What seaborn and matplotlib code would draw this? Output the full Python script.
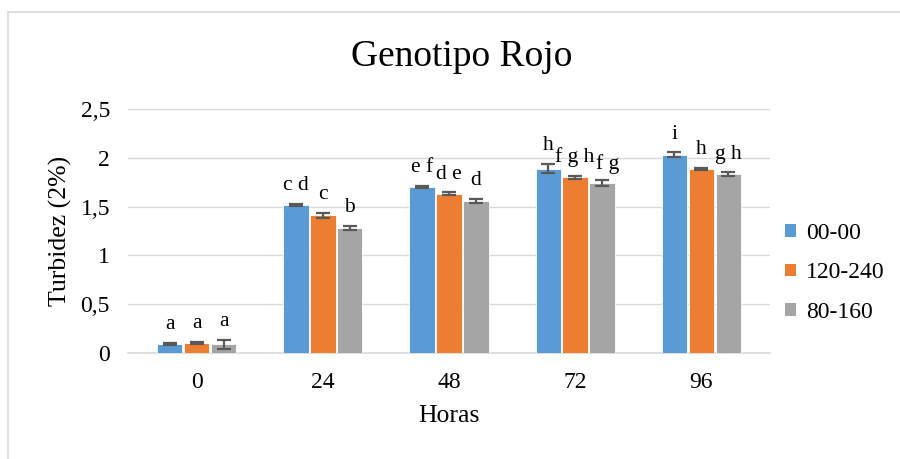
import matplotlib
matplotlib.use("Agg")
import matplotlib.pyplot as plt
from matplotlib.lines import Line2D
import seaborn as sns
import pandas as pd
import numpy as np

# ---- data ----
horas = ["0", "24", "48", "72", "96"]
series = ["00-00", "120-240", "80-160"]
v_0000 = [0.09, 1.52, 1.70, 1.89, 2.03]
v_120240 = [0.10, 1.41, 1.63, 1.80, 1.89]
v_80160 = [0.09, 1.28, 1.56, 1.74, 1.83]
e_0000 = [0.01, 0.01, 0.01, 0.05, 0.025]
e_120240 = [0.01, 0.025, 0.015, 0.015, 0.01]
e_80160 = [0.045, 0.02, 0.02, 0.03, 0.02]
l_0000 = ["a", "c d", "e f", "h", "i"]
l_120240 = ["a", "c", "d e", "f g h", "h"]
l_80160 = ["a", "b", "d", "f g", "g h"]

colors = ["#5B9BD5", "#ED7D31", "#A5A5A5"]

vals = [v_0000, v_120240, v_80160]
errs = [e_0000, e_120240, e_80160]
labs = [l_0000, l_120240, l_80160]

rows = []
for s, v in zip(series, vals):
    for h, y in zip(horas, v):
        rows.append({"Horas": h, "Serie": s, "Turbidez": y})
df = pd.DataFrame(rows)

sns.set_style("white")
plt.rcParams["font.family"] = ["Liberation Serif", "DejaVu Serif"]
plt.rcParams["text.color"] = "black"
plt.rcParams["axes.labelcolor"] = "black"
plt.rcParams["xtick.color"] = "black"
plt.rcParams["ytick.color"] = "black"

fig = plt.figure(figsize=(9, 4.59), dpi=100)
ax = fig.add_axes([128/900, 1-353/459, (770-128)/900, (353-109)/459])

sns.barplot(data=df, x="Horas", y="Turbidez", hue="Serie", order=horas,
            hue_order=series, palette=colors, saturation=1, width=0.64, gap=0.06,
            errorbar=None, edgecolor="white", linewidth=0.6, ax=ax, zorder=3)

# small label nudges (in points) to keep crowded letters apart
nudge = {(2, 3): (4, -2)}

bar_containers = list(ax.containers)
for ci, cont in enumerate(bar_containers):
    for bi, patch in enumerate(cont.patches):
        xc = patch.get_x() + patch.get_width() / 2
        h = patch.get_height()
        e = errs[ci][bi]
        ax.errorbar(xc, h, yerr=e, ecolor="#595959", elinewidth=1.6,
                    capsize=5, capthick=1.6, fmt="none", zorder=4)
        dx, dy = nudge.get((ci, bi), (0, 0))
        ax.annotate(labs[ci][bi], (xc, h + e), xytext=(dx, 10 + dy),
                    textcoords="offset points", ha="center", va="baseline",
                    fontsize=15.5, color="black", zorder=5)

ax.set_ylim(0, 2.5)
ax.set_yticks([0, 0.5, 1, 1.5, 2, 2.5])
ax.set_yticklabels(["0", "0,5", "1", "1,5", "2", "2,5"])
ax.yaxis.grid(True, color="#D9D9D9", linewidth=1.0, zorder=0)
ax.set_axisbelow(True)
for sp in ["top", "right", "left"]:
    ax.spines[sp].set_visible(False)
ax.spines["bottom"].set_color("#D9D9D9")
ax.spines["bottom"].set_linewidth(1.2)
ax.tick_params(axis="both", length=0, labelsize=17, colors="black")
ax.tick_params(axis="x", pad=14)
ax.tick_params(axis="y", pad=13)
ax.set_xlabel("Horas", fontsize=18.5, labelpad=8)
ax.set_ylabel("Turbidez (2%)", fontsize=18.5, labelpad=6)

fig.text(462/900, 1-57/459, "Genotipo Rojo", ha="center", va="center", fontsize=27)

leg = ax.legend(loc="center left", bbox_to_anchor=(785/900, 1-273/459),
                bbox_transform=fig.transFigure, frameon=False, fontsize=17,
                handlelength=0.45, handleheight=0.45, handletextpad=0.45,
                labelspacing=0.78, borderpad=0, borderaxespad=0)
for hnd in leg.legend_handles:
    hnd.set_edgecolor("none")

# chart-area border
fig.add_artist(Line2D([7.5/900, 7.5/900], [0, 1-12/459], transform=fig.transFigure,
                      color="#D9D9D9", linewidth=1.2))
fig.add_artist(Line2D([7.5/900, 1], [1-12/459, 1-12/459], transform=fig.transFigure,
                      color="#D9D9D9", linewidth=1.2))

fig.savefig("out.png", dpi=100)
